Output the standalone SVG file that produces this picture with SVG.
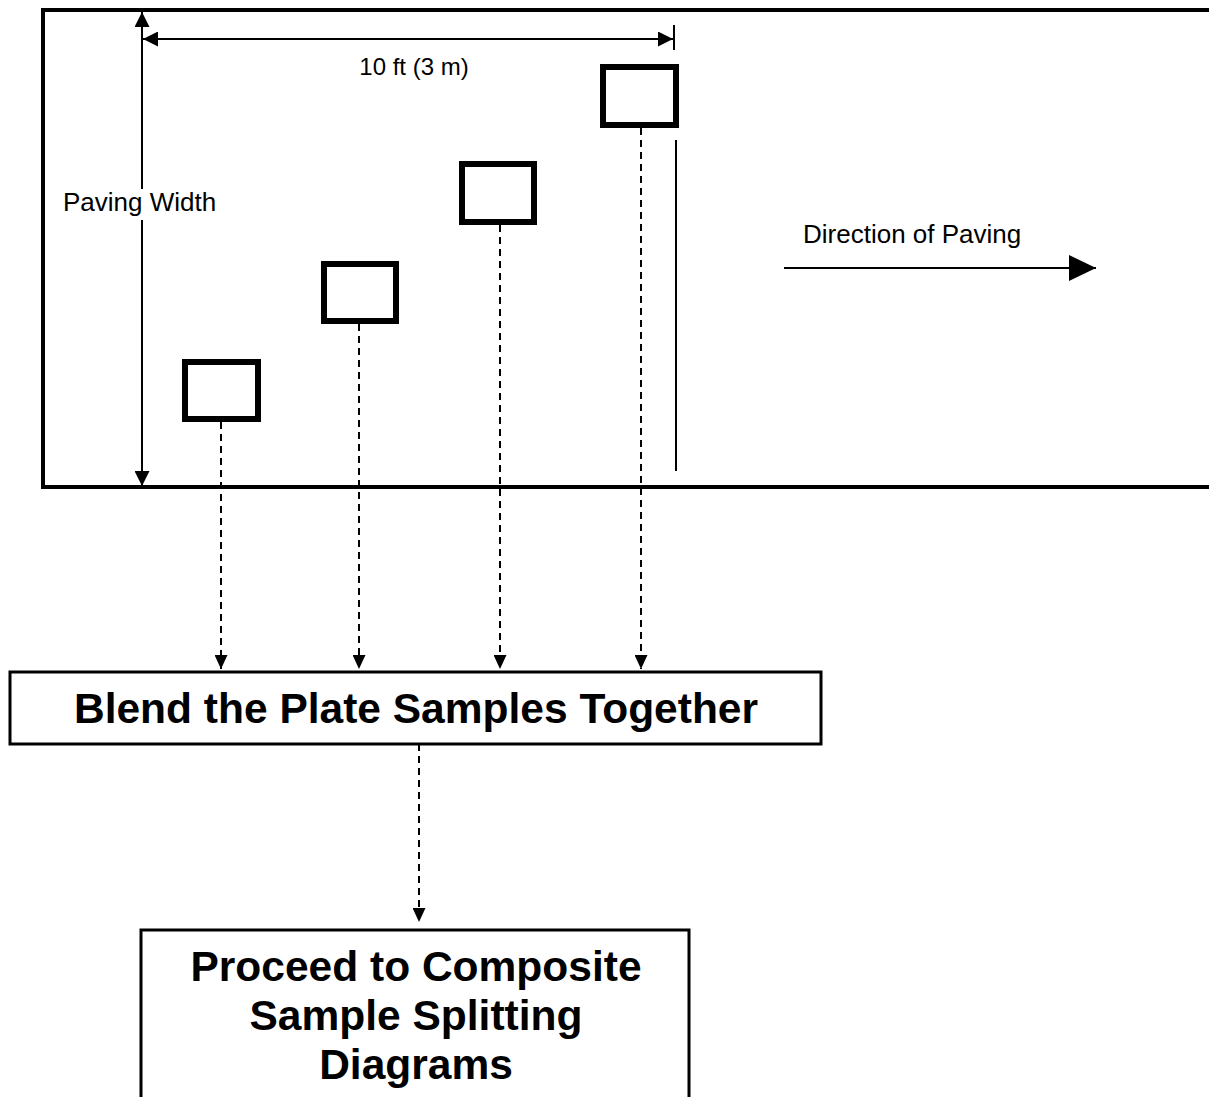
<svg xmlns="http://www.w3.org/2000/svg" width="1209" height="1097" viewBox="0 0 1209 1097">
  <style>
    .lbl { font-family: "Liberation Sans", Arial, sans-serif; font-size: 26px; fill: #000; }
    .big { font-family: "Liberation Sans", Arial, sans-serif; font-weight: bold; font-size: 42.5px; fill: #000; text-anchor: middle; }
    .plate { fill: #fff; stroke: #000; stroke-width: 6; }
    .box { fill: #fff; stroke: #000; stroke-width: 3; }
    .dim { stroke: #000; stroke-width: 2; fill: none; }
    .dash { stroke: #000; stroke-width: 2; fill: none; stroke-dasharray: 7 5; }
  </style>
  <defs>
    <marker id="tri" viewBox="0 0 10 10" refX="10" refY="5" markerWidth="15" markerHeight="15" markerUnits="userSpaceOnUse" orient="auto-start-reverse">
      <path d="M0,0 L10,5 L0,10 z" fill="#000"/>
    </marker>
    <marker id="smalltri" viewBox="0 0 10 10" refX="10" refY="5" markerWidth="14" markerHeight="13" markerUnits="userSpaceOnUse" orient="auto" preserveAspectRatio="none">
      <path d="M0,0 L10,5 L0,10 z" fill="#000"/>
    </marker>
    <marker id="bigtri" viewBox="0 0 10 10" refX="10" refY="5" markerWidth="27" markerHeight="26" markerUnits="userSpaceOnUse" orient="auto" preserveAspectRatio="none">
      <path d="M0,0 L10,5 L0,10 z" fill="#000"/>
    </marker>
  </defs>

  <!-- paving strip (open on the right) -->
  <g id="paving">
    <path d="M1212,10 H43 V487 H1212" fill="none" stroke="#000" stroke-width="4"/>
  </g>

  <!-- dimensions -->
  <g id="dimensions">
    <line class="dim" x1="142" y1="486" x2="142" y2="12" marker-start="url(#tri)" marker-end="url(#tri)"/>
    <line class="dim" x1="143" y1="39" x2="673" y2="39" marker-start="url(#tri)" marker-end="url(#tri)"/>
    <line class="dim" x1="674" y1="25" x2="674" y2="50"/>
    <text class="lbl" x="414" y="75" text-anchor="middle" style="font-size:24px">10 ft (3 m)</text>
    <!-- label sits on a white patch that breaks the width line -->
    <rect x="60" y="189" width="160" height="31" fill="#fff"/>
    <text class="lbl" x="63" y="211">Paving Width</text>
    <line class="dim" x1="676" y1="140" x2="676" y2="471"/>
  </g>

  <!-- direction -->
  <g id="direction">
    <text class="lbl" x="803" y="243">Direction of Paving</text>
    <line class="dim" x1="784" y1="268" x2="1096" y2="268" marker-end="url(#bigtri)"/>
  </g>

  <!-- sample plates -->
  <g id="plate1"><rect class="plate" x="185" y="362" width="73" height="57"/></g>
  <g id="plate2"><rect class="plate" x="324" y="264" width="72" height="57"/></g>
  <g id="plate3"><rect class="plate" x="462" y="164" width="72" height="58"/></g>
  <g id="plate4"><rect class="plate" x="603" y="67" width="73" height="58"/></g>

  <!-- connectors -->
  <g id="connectors">
    <line class="dash" x1="221" y1="422" x2="221" y2="669" marker-end="url(#smalltri)"/>
    <line class="dash" x1="359" y1="324" x2="359" y2="669" marker-end="url(#smalltri)"/>
    <line class="dash" x1="500" y1="225" x2="500" y2="669" marker-end="url(#smalltri)"/>
    <line class="dash" x1="641" y1="128" x2="641" y2="669" marker-end="url(#smalltri)"/>
    <line class="dash" x1="419" y1="744" x2="419" y2="922" marker-end="url(#smalltri)"/>
  </g>

  <!-- blend step -->
  <g id="blend">
    <rect class="box" x="10" y="672" width="811" height="72"/>
    <text class="big" x="416" y="723">Blend the Plate Samples Together</text>
  </g>

  <!-- next step -->
  <g id="proceed">
    <path class="box" d="M141,1100 V930 H689 V1100"/>
    <text class="big" x="416" y="981">Proceed to Composite</text>
    <text class="big" x="416" y="1030">Sample Splitting</text>
    <text class="big" x="416" y="1079">Diagrams</text>
  </g>
</svg>
